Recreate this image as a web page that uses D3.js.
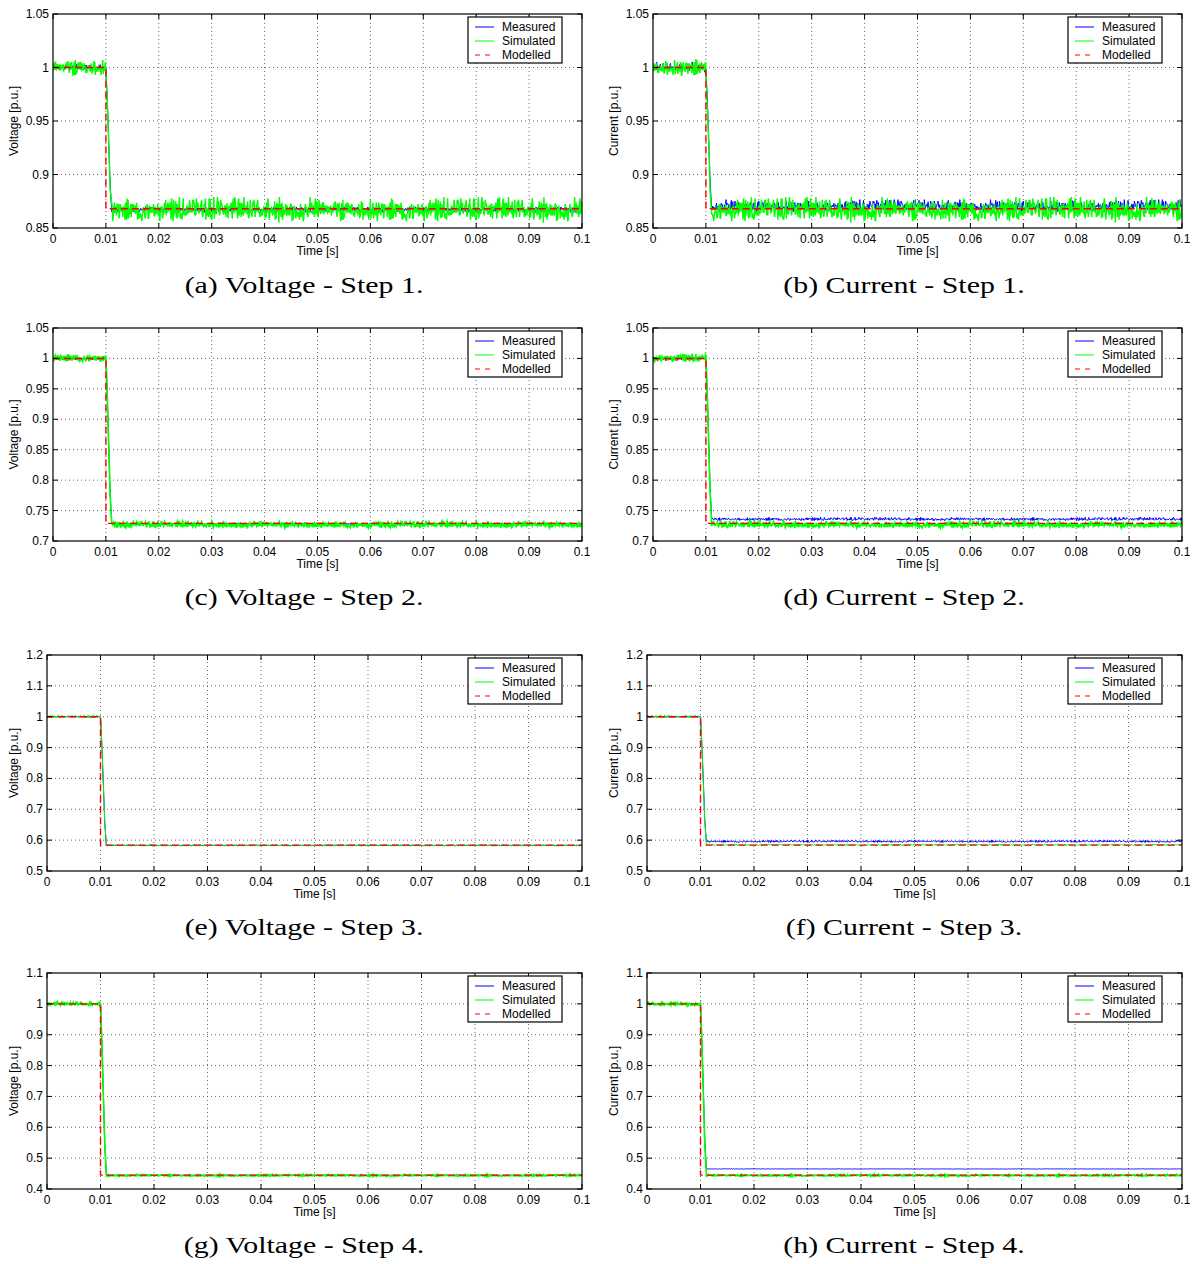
<!DOCTYPE html>
<html>
<head>
<meta charset="utf-8">
<script src="https://cdn.jsdelivr.net/npm/d3@7/dist/d3.min.js"></script>
<style>
  body { margin: 0; background: #fff; }
  svg { display: block; }
  .tick-label, .axis-label, .legend-text { font-family: "Liberation Sans", Arial, sans-serif; fill: #000; }
  .caption { font-family: "Liberation Serif", "Times New Roman", serif; fill: #000; }
</style>
</head>
<body>
<svg id="chart" width="1196" height="1264"></svg>
<script>
// Values, one entry per panel (a..h)
const captions = [
  '(a) Voltage - Step 1.', '(b) Current - Step 1.',
  '(c) Voltage - Step 2.', '(d) Current - Step 2.',
  '(e) Voltage - Step 3.', '(f) Current - Step 3.',
  '(g) Voltage - Step 4.', '(h) Current - Step 4.'
];
const yLabels = [
  'Voltage [p.u.]', 'Current [p.u.]', 'Voltage [p.u.]', 'Current [p.u.]',
  'Voltage [p.u.]', 'Current [p.u.]', 'Voltage [p.u.]', 'Current [p.u.]'
];
const yTicksStep1 = [0.85, 0.9, 0.95, 1, 1.05];
const yTicksStep2 = [0.7, 0.75, 0.8, 0.85, 0.9, 0.95, 1, 1.05];
const yTicksStep3 = [0.5, 0.6, 0.7, 0.8, 0.9, 1, 1.1, 1.2];
const yTicksStep4 = [0.4, 0.5, 0.6, 0.7, 0.8, 0.9, 1, 1.1];
const yTicks = [yTicksStep1, yTicksStep1, yTicksStep2, yTicksStep2,
                yTicksStep3, yTicksStep3, yTicksStep4, yTicksStep4];
const timeTicks = [0, 0.01, 0.02, 0.03, 0.04, 0.05, 0.06, 0.07, 0.08, 0.09, 0.1];
const seriesNames = ['Measured', 'Simulated', 'Modelled'];

const stepTime = 0.01;      // s
const sampleStep = 0.0001;  // s
const endTime = 0.1;        // s
const preLevel = 1.0;       // p.u.

// levels after the step
const measuredPost  = [0.867, 0.8705, 0.728, 0.736, 0.583, 0.596, 0.444, 0.465];
const simulatedPost = [0.867, 0.867, 0.727, 0.727, 0.583, 0.585, 0.444, 0.444];
const modelledPost  = [0.868, 0.868, 0.729, 0.729, 0.584, 0.584, 0.445, 0.445];
// pre-step level of the simulated trace (slightly above 1 in step 2)
const simulatedPre  = [1.0, 1.0, 1.001, 1.001, 1.0, 1.0, 1.0, 1.0];
// noise half-ranges
const measuredPreNoise   = [0.003, 0.005, 0.003, 0.004, 0.002, 0.002, 0.002, 0.002];
const measuredPostNoise  = [0.003, 0.006, 0.002, 0.003, 0.001, 0.004, 0.001, 0.001];
const simulatedPreNoise  = [0.009, 0.009, 0.007, 0.007, 0.005, 0.005, 0.006, 0.006];
const simulatedPostNoise = [0.012, 0.012, 0.006, 0.006, 0.003, 0.003, 0.003, 0.003];
// shape of the fall after the step (time after step, fraction of the drop)
const fallOffsets  = [0, 0.0002, 0.0004, 0.0006, 0.0008, 0.0011];
const fallFraction = [0, 0.17, 0.38, 0.6, 0.82, 1];
// hand-typed noise sequence
const noiseDigits = (
  '3141592653 5897932384 6264338327 9502884197 1693993751 0582097494 ' +
  '4592307816 4062862089 9862803482 5342117067 9821480865 1328230664 ' +
  '7093844609 5505822317 2535940812 8481117450 2841027019 3852110555 ' +
  '9644622948 9549303819 6442881097 5665933446 1284756482 3378678316 ' +
  '5271201909 1456485669 2346034861 0454326648 2133936072 6024914127 ' +
  '3724587006 6063155881 7488152092 0962829254 0917153643 6789259036 ' +
  '0011330530 5488204665 2138414695 1941511609 4330572703 6575959195 ' +
  '3092186117 3819326117 9310511854 8074462379 9627495673 5188575272 ' +
  '4891227938 1830119491'
).replace(/\s/g, '').split('').map(Number);

// Layout of the 4x2 grid of subfigures
const plotLeft   = [53, 653, 53, 653, 47, 647, 47, 647];
const plotRight  = [582, 1182, 582, 1182, 582, 1182, 582, 1182];
const plotTop    = [14, 14, 328, 328, 655, 655, 973, 973];
const plotBottom = [228, 228, 541, 541, 871, 871, 1189, 1189];
const captionX   = [304, 904];
const captionY   = [293, 605, 935, 1253];
const labelClipY = [null, null, null, null, 900, 900, null, null];
const simulatedWidth = [1.4, 1.4, 1.6, 1.6, 1, 1, 1.6, 1.6];

const colors = { Measured: '#0000ff', Simulated: '#00ff00', Modelled: '#ff0000' };

/**
 * Noise value in [-1, 1] taken from the typed digit sequence
 */
function noiseAt(i, offset) {
  const n = noiseDigits.length;
  const a = noiseDigits[(i + offset) % n];
  const b = noiseDigits[(i + offset + 7) % n];
  return (a + b - 9) / 9;
}

/**
 * Build one noisy step trace
 */
function stepTrace(pre, post, preNoise, postNoise, offset) {
  const pts = [];
  const nSamples = Math.round(endTime / sampleStep);
  let k = 0;
  for (let i = 0; i <= nSamples; i++) {
    const t = i * sampleStep;
    if (t > stepTime + 1e-9) break;
    pts.push([t, pre + preNoise * noiseAt(k++, offset)]);
  }
  for (let j = 1; j < fallOffsets.length; j++) {
    const f = fallFraction[j];
    const amp = preNoise * (1 - f) + postNoise * f;
    pts.push([stepTime + fallOffsets[j], pre - (pre - post) * f + amp * noiseAt(k++, offset)]);
  }
  const tStart = stepTime + fallOffsets[fallOffsets.length - 1];
  for (let i = 0; i <= nSamples; i++) {
    const t = i * sampleStep;
    if (t <= tStart + 1e-9) continue;
    pts.push([t, post + postNoise * noiseAt(k++, offset)]);
  }
  return pts;
}

const svg = d3.select('#chart');
const defs = svg.append('defs');

/**
 * Draw one subfigure (axes, grid, traces, legend, caption)
 */
function drawPanel(i) {
  const x = d3.scaleLinear().domain([0, 0.1]).range([plotLeft[i], plotRight[i]]);
  const ticks = yTicks[i];
  const y = d3.scaleLinear().domain([ticks[0], ticks[ticks.length - 1]])
    .range([plotBottom[i], plotTop[i]]);
  const fmt = d3.format('~g');

  const g = svg.append('g').attr('class', 'panel-' + i);

  // grid
  const grid = g.append('g').attr('stroke', '#444').attr('stroke-width', 0.8)
    .attr('stroke-dasharray', '1,3');
  grid.selectAll('line.gx').data(timeTicks.slice(1, -1)).enter().append('line')
    .attr('x1', d => x(d)).attr('x2', d => x(d))
    .attr('y1', y.range()[0]).attr('y2', y.range()[1]);
  grid.selectAll('line.gy').data(ticks.slice(1, -1)).enter().append('line')
    .attr('y1', d => y(d)).attr('y2', d => y(d))
    .attr('x1', x.range()[0]).attr('x2', x.range()[1]);

  // traces
  defs.append('clipPath').attr('id', 'clip' + i).append('rect')
    .attr('x', plotLeft[i]).attr('y', plotTop[i])
    .attr('width', plotRight[i] - plotLeft[i]).attr('height', plotBottom[i] - plotTop[i]);
  const traces = g.append('g').attr('clip-path', `url(#clip${i})`);
  const line = d3.line().x(d => x(d[0])).y(d => y(d[1]));

  const measured = stepTrace(preLevel, measuredPost[i], measuredPreNoise[i], measuredPostNoise[i], 37 * i + 11);
  const simulated = stepTrace(simulatedPre[i], simulatedPost[i], simulatedPreNoise[i], simulatedPostNoise[i], 53 * i + 200);
  const modelled = [[0, preLevel], [stepTime, preLevel], [stepTime, modelledPost[i]], [endTime, modelledPost[i]]];

  traces.append('path').datum(measured).attr('d', line)
    .attr('fill', 'none').attr('stroke', colors.Measured).attr('stroke-width', 1);
  traces.append('path').datum(simulated).attr('d', line)
    .attr('fill', 'none').attr('stroke', colors.Simulated).attr('stroke-width', simulatedWidth[i]);
  traces.append('path').datum(modelled).attr('d', line)
    .attr('fill', 'none').attr('stroke', colors.Modelled).attr('stroke-width', 1.4)
    .attr('stroke-dasharray', '7,4');

  // axes box and inward ticks
  g.append('rect')
    .attr('x', plotLeft[i]).attr('y', plotTop[i])
    .attr('width', plotRight[i] - plotLeft[i]).attr('height', plotBottom[i] - plotTop[i])
    .attr('fill', 'none').attr('stroke', '#000').attr('stroke-width', 1.2);
  const tk = g.append('g').attr('stroke', '#000').attr('stroke-width', 1);
  timeTicks.forEach(t => {
    tk.append('line').attr('x1', x(t)).attr('x2', x(t)).attr('y1', plotBottom[i]).attr('y2', plotBottom[i] - 5);
    tk.append('line').attr('x1', x(t)).attr('x2', x(t)).attr('y1', plotTop[i]).attr('y2', plotTop[i] + 5);
  });
  ticks.forEach(v => {
    tk.append('line').attr('y1', y(v)).attr('y2', y(v)).attr('x1', plotLeft[i]).attr('x2', plotLeft[i] + 5);
    tk.append('line').attr('y1', y(v)).attr('y2', y(v)).attr('x1', plotRight[i]).attr('x2', plotRight[i] - 5);
  });

  // tick labels
  g.selectAll('text.xt').data(timeTicks).enter().append('text')
    .attr('class', 'tick-label').attr('font-size', 12)
    .attr('x', d => x(d)).attr('y', plotBottom[i] + 15)
    .attr('text-anchor', 'middle').text(d => fmt(d));
  g.selectAll('text.yt').data(ticks).enter().append('text')
    .attr('class', 'tick-label').attr('font-size', 12)
    .attr('x', plotLeft[i] - 4).attr('y', d => y(d) + 4)
    .attr('text-anchor', 'end').text(d => fmt(d));

  // axis labels
  const labelG = g.append('g');
  if (labelClipY[i] !== null) {
    defs.append('clipPath').attr('id', 'lclip' + i).append('rect')
      .attr('x', 0).attr('y', 0).attr('width', 1196).attr('height', labelClipY[i]);
    labelG.attr('clip-path', `url(#lclip${i})`);
  }
  labelG.append('text').attr('class', 'axis-label').attr('font-size', 12)
    .attr('x', (plotLeft[i] + plotRight[i]) / 2).attr('y', plotBottom[i] + 27)
    .attr('text-anchor', 'middle').text('Time [s]');
  g.append('text').attr('class', 'axis-label').attr('font-size', 12)
    .attr('transform', `translate(${(i % 2) * 600 + 18},${(plotTop[i] + plotBottom[i]) / 2}) rotate(-90)`)
    .attr('text-anchor', 'middle').text(yLabels[i]);

  // legend
  const lx = plotRight[i] - 114, ly = plotTop[i] + 3;
  const legend = g.append('g').attr('transform', `translate(${lx},${ly})`);
  legend.append('rect').attr('width', 94).attr('height', 46)
    .attr('fill', '#fff').attr('stroke', '#000').attr('stroke-width', 1.2);
  seriesNames.forEach((name, j) => {
    const row = legend.append('g').attr('transform', `translate(0,${10 + j * 14})`);
    row.append('line').attr('x1', 7).attr('x2', 26).attr('y1', 0).attr('y2', 0)
      .attr('stroke', colors[name]).attr('stroke-width', 1)
      .attr('stroke-dasharray', name === 'Modelled' ? '5,5' : null);
    row.append('text').attr('class', 'legend-text').attr('font-size', 12)
      .attr('x', 34).attr('y', 4).text(name);
  });

  // caption
  svg.append('text').attr('class', 'caption').attr('font-size', 23)
    .attr('text-anchor', 'middle')
    .attr('transform', `translate(${captionX[i % 2]},${captionY[Math.floor(i / 2)]}) scale(1.3,1)`)
    .text(captions[i]);
}

captions.forEach((c, i) => drawPanel(i));
</script>
</body>
</html>
